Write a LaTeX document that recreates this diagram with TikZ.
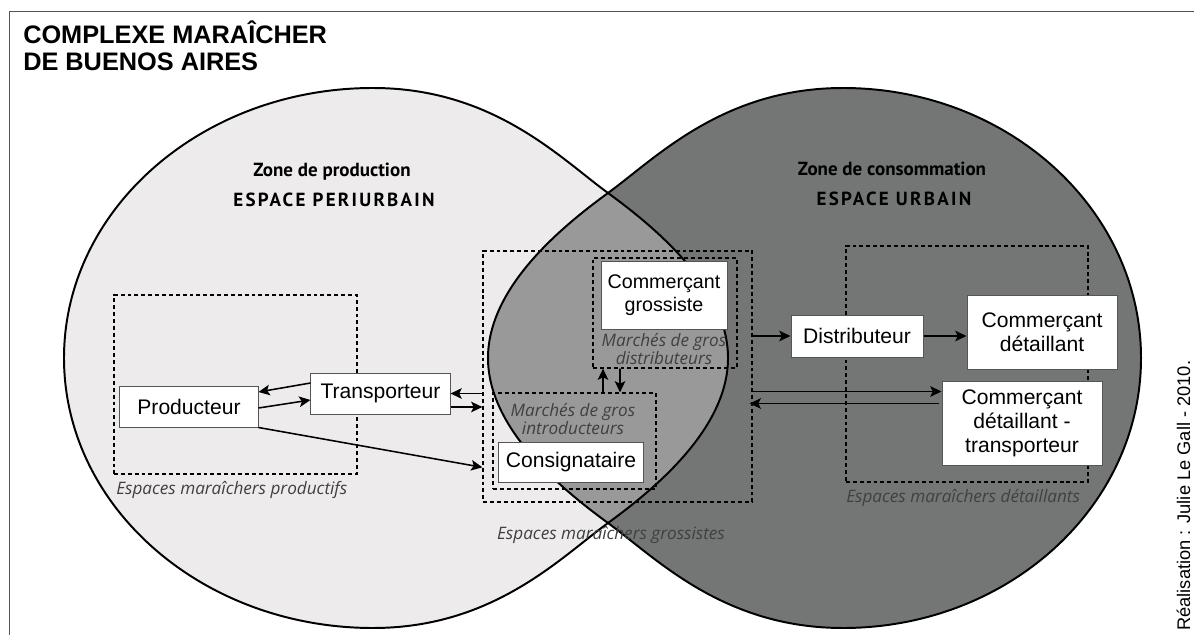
\documentclass[tikz,border=0pt]{standalone}
\usepackage{fontspec}
\setmainfont{Liberation Sans}
\newfontfamily\myriad{PT Sans}
\newfontfamily\opensans{Open Sans}
\usetikzlibrary{arrows.meta,positioning,calc}

\definecolor{prodgray}{RGB}{237,235,236}
\definecolor{consgray}{RGB}{116,118,117}
\definecolor{lensgray}{RGB}{153,153,153}
\definecolor{labgray}{RGB}{64,64,64}
\definecolor{edgegray}{RGB}{85,85,85}

\tikzset{
  box/.style={draw=edgegray, fill=white, line width=0.7pt, align=center, font=\fontsize{15}{17}\selectfont, inner sep=0pt},
  zone/.style={draw, dash pattern=on 2.8pt off 2.1pt, line width=0.85pt, inner sep=0pt},
  zlab/.style={font=\opensans\itshape\fontsize{12.2}{12.8}\selectfont, text=labgray, align=center, inner sep=0pt},
  ztitle/.style={font=\myriad\bfseries\fontsize{13.5}{15}\selectfont, inner sep=0pt},
  zcaps/.style={font=\myriad\bfseries\addfontfeature{LetterSpace=12}\fontsize{13.5}{15}\selectfont, inner sep=0pt},
  arr/.style={-{Stealth[length=8pt, width=7.5pt, inset=1.8pt]}, line width=1.1pt},
  egg/.style={line width=1.4pt},
}

% the two zones: outer half elliptic, inner half bulging, crossing at x=608
\newcommand\leftegg{(373,88) .. controls (493,88) and (560,158) .. (608,193)
  .. controls (656,228) and (728,288) .. (728,358)
  .. controls (728,428) and (656,488) .. (608,523)
  .. controls (560,558) and (493,628) .. (373,628)
  .. controls (202.3,628) and (64,507.1) .. (64,358)
  .. controls (64,208.9) and (202.3,88) .. (373,88) -- cycle}
\newcommand\rightegg{(843,88) .. controls (1007.6,88) and (1141,208.9) .. (1141,358)
  .. controls (1141,507.1) and (1007.6,628) .. (843,628)
  .. controls (723,628) and (656,558) .. (608,523)
  .. controls (560,488) and (488,428) .. (488,358)
  .. controls (488,288) and (560,228) .. (608,193)
  .. controls (656,158) and (723,88) .. (843,88) -- cycle}

\begin{document}
\begin{tikzpicture}[x=0.025cm, y=-0.025cm]
\useasboundingbox (0,0) rectangle (1194,635);
\draw[edgegray, line width=0.7pt] (9,635) -- (9,11) -- (1194,11);

% zones
\fill[prodgray] \leftegg;
\fill[consgray] \rightegg;
\begin{scope}
  \clip \leftegg;
  \fill[lensgray] \rightegg;
\end{scope}
\draw[egg] \leftegg;
\draw[egg] \rightegg;

% title
\node[font=\bfseries\fontsize{18}{19.2}\selectfont, anchor=base west, inner sep=0pt] (title1) at (23,44) {COMPLEXE MARAÎCHER};
\node[font=\bfseries\fontsize{18}{19.2}\selectfont, anchor=base west, inner sep=0pt] (title2) at (23,71) {DE BUENOS AIRES};

\node[ztitle, anchor=base] (zprod) at (332,177) {Zone de production};
\node[zcaps, anchor=base] (eperi) at (334,207) {ESPACE PERIURBAIN};
\node[ztitle, anchor=base] (zcons) at (892,176) {Zone de consommation};
\node[zcaps, anchor=base] (eurb) at (894,206) {ESPACE URBAIN};

% dashed spaces
\node[zone, minimum width=6.075cm, minimum height=4.475cm] (prodz) at (235.5,384.5) {};
\node[zone, minimum width=6.725cm, minimum height=6.275cm] (gros) at (617.5,376.5) {};
\node[zone, minimum width=3.6cm, minimum height=2.75cm] (dist) at (665,313) {};
\node[zone, minimum width=4.075cm, minimum height=2.4cm] (intro) at (574.5,441) {};
\node[zone, minimum width=6.05cm, minimum height=5.9cm] (detz) at (967,364) {};

% actors
\node[box, minimum width=3.45cm, minimum height=1.025cm] (prod) at (189,406.5) {Producteur};
\node[box, minimum width=3.475cm, minimum height=1.025cm] (trans) at (380.5,393.5) {Transporteur};
\node[box, minimum width=3.6cm, minimum height=1cm] (cons) at (571,462) {Consignataire};
\node[box, minimum width=3.15cm, minimum height=1.675cm, font=\fontsize{14}{16.5}\selectfont] (cgros) at (664,295.5) {Commerçant\\grossiste};
\node[box, minimum width=3.3cm, minimum height=1.05cm] (distr) at (857,336) {Distributeur};
\node[box, minimum width=3.75cm, minimum height=1.825cm] (cdet) at (1042,332.5) {Commerçant\\détaillant};
\node[box, minimum width=4cm, minimum height=2.075cm] (cdtr) at (1022,423.5) {Commerçant\\détaillant -\\transporteur};

% space labels
\node[zlab, anchor=base west] (lprod) at (116,494) {Espaces maraîchers productifs};
\node[zlab] (ldist) at (664,349) {Marchés de gros\\distributeurs};
\node[zlab] (lintro) at (573,419) {Marchés de gros\\introducteurs};
\node[zlab, anchor=base] (lgros) at (611,539) {Espaces maraîchers grossistes};
\node[zlab, anchor=base west] (ldet) at (846,502) {Espaces maraîchers détaillants};

% flows
\draw[arr] ($(trans.west)+(0,-10.5)$) -- ($(prod.east)+(0,-14.5)$);
\draw[arr] ($(prod.east)+(0,1.5)$) -- ($(trans.west)+(0,6.5)$);
\draw[arr] (prod.south east) -- ($(gros.south west)!0.14!(gros.north west)$);
\draw[arr] (trans.east -| gros.west) -- (trans.east);
\draw[arr] ($(trans.east)+(0,13.5)$) -- ($(trans.east -| gros.west)+(0,13.5)$);
\draw[arr] ($(intro.north)+(28.5,0)$) -- ($(dist.south)+(-62,0)$);
\draw[arr] ($(dist.south)+(-45,0)$) -- ($(intro.north)+(45.5,0)$);
\draw[arr] (gros.east |- distr.west) -- (distr.west);
\draw[arr] (distr.east) -- (distr.east -| cdet.west);
\draw[arr] ($(gros.east |- cdtr.north west)+(0,10)$) -- ($(cdtr.north west)+(0,10)$);
\draw[arr] ($(cdtr.north west)+(-3,22)$) -- ($(gros.east |- cdtr.north west)+(-3,22)$);

\node[rotate=90, anchor=base west, inner sep=0pt, font=\fontsize{13}{15}\selectfont] (credit) at (1190,631) {Réalisation : Julie Le Gall - 2010.};
\end{tikzpicture}
\end{document}
